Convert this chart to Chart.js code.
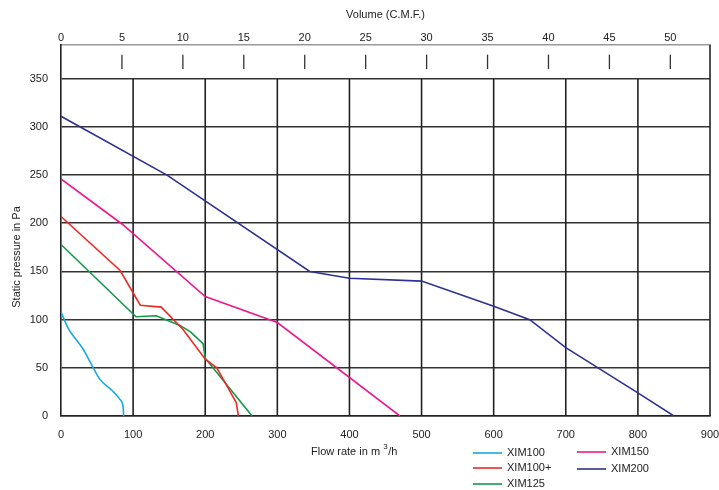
<!DOCTYPE html>
<html lang="en">
<head>
  <meta charset="UTF-8" />
  <title>Static pressure vs flow rate</title>
  <script src="https://cdn.jsdelivr.net/npm/chart.js"></script>
  <style>
    html, body { margin: 0; padding: 0; background: #fff; }
    #chart { display: block; }
  </style>
</head>
<body>
  <canvas id="chart" width="719" height="490"></canvas>

  <script>
    // Data: flow rate in m3/h, static pressure in Pa
    const seriesNames = ["XIM100", "XIM100+", "XIM125", "XIM150", "XIM200"];
    const seriesColors = ["#18a8e6", "#ee2a24", "#13984a", "#ec1a8c", "#2d3191"];

    const xim100Flow = [0, 10, 31, 44, 54, 70, 82, 86, 87];
    const xim100Pressure = [108, 91, 69, 51, 38, 27, 17, 10, 0];

    const xim100pFlow = [0, 82, 110, 139, 169, 200, 216, 243, 246];
    const xim100pPressure = [207, 151, 115, 113, 90, 59, 50, 14, 0];

    const xim125Flow = [0, 104, 132, 165, 180, 197, 200, 265];
    const xim125Pressure = [178, 103, 104, 94, 87, 75, 60, 0];

    const xim150Flow = [0, 85, 200, 300, 470];
    const xim150Pressure = [246, 199, 124, 97, 0];

    const xim200Flow = [0, 147, 345, 400, 500, 600, 650, 700, 800, 850];
    const xim200Pressure = [311, 250, 150, 143, 140, 114, 100, 71, 24, 0];

    const flowTicks = [0, 100, 200, 300, 400, 500, 600, 700, 800, 900];
    const volumeTicks = [0, 5, 10, 15, 20, 25, 30, 35, 40, 45, 50];
    const pressureTicks = [0, 50, 100, 150, 200, 250, 300, 350];
    const m3PerVolumeUnit = 16.9; // top scale as printed on the chart

    const flows = [xim100Flow, xim100pFlow, xim125Flow, xim150Flow, xim200Flow];
    const pressures = [xim100Pressure, xim100pPressure, xim125Pressure, xim150Pressure, xim200Pressure];

    const font = "'Liberation Sans', Arial, sans-serif";
    Chart.defaults.font.family = font;
    Chart.defaults.font.size = 11;
    Chart.defaults.color = "#222";

    const datasets = seriesNames.map((name, i) => ({
      label: name,
      data: flows[i].map((x, k) => ({ x: x, y: pressures[i][k] })),
      borderColor: seriesColors[i],
      backgroundColor: seriesColors[i],
      borderWidth: 1.6,
      pointRadius: 0,
      fill: false,
      tension: i === 0 ? 0.4 : 0,
      cubicInterpolationMode: i === 0 ? "monotone" : "default"
    }));

    // grid, top tick marks, titles and the two-column legend
    const decor = {
      id: "decor",
      beforeDatasetsDraw(chart) {
        const ctx = chart.ctx;
        const x = chart.scales.x, y = chart.scales.y, x2 = chart.scales.x2;
        const top350 = y.getPixelForValue(350);
        const bottom = y.getPixelForValue(0);
        ctx.save();
        ctx.strokeStyle = "#222";
        ctx.lineWidth = 1.6;
        flowTicks.forEach(v => {
          if (v === 0) return;
          const px = x.getPixelForValue(v);
          ctx.beginPath();
          ctx.moveTo(px, v === 900 ? chart.chartArea.top : top350);
          ctx.lineTo(px, bottom);
          ctx.stroke();
        });
        ctx.lineWidth = 1.3;
        ctx.strokeStyle = "#333";
        volumeTicks.forEach(v => {
          if (v === 0) return;
          const px = x2.getPixelForValue(v);
          ctx.beginPath();
          ctx.moveTo(px, y.getPixelForValue(375));
          ctx.lineTo(px, y.getPixelForValue(360));
          ctx.stroke();
        });
        ctx.restore();
      },
      afterDraw(chart) {
        const ctx = chart.ctx;
        const area = chart.chartArea;
        ctx.save();
        ctx.fillStyle = "#222";
        ctx.font = "11px " + font;
        ctx.textBaseline = "middle";

        ctx.textAlign = "center";
        ctx.fillText("Volume (C.M.F.)", (area.left + area.right) / 2, 15);

        ctx.textAlign = "left";
        ctx.fillText("Flow rate in m", 311, 452);
        const w = ctx.measureText("Flow rate in m ").width;
        ctx.font = "8px " + font;
        ctx.fillText("3", 311 + w, 447);
        ctx.font = "11px " + font;
        ctx.fillText("/h", 311 + w + 5, 452);

        ctx.translate(17, 257);
        ctx.rotate(-Math.PI / 2);
        ctx.textAlign = "center";
        ctx.fillText("Static pressure in Pa", 0, 0);
        ctx.setTransform(1, 0, 0, 1, 0, 0);

        const slots = [[473, 453], [473, 468], [473, 484], [577, 452], [577, 469]];
        ctx.textAlign = "left";
        ctx.lineWidth = 1.6;
        chart.data.datasets.forEach((ds, i) => {
          const [lx, ly] = slots[i];
          ctx.strokeStyle = ds.borderColor;
          ctx.beginPath();
          ctx.moveTo(lx, ly);
          ctx.lineTo(lx + 29, ly);
          ctx.stroke();
          ctx.fillText(ds.label, lx + 34, ly);
        });
        ctx.restore();
      }
    };

    new Chart(document.getElementById("chart").getContext("2d"), {
      type: "line",
      data: { datasets: datasets },
      options: {
        responsive: false,
        animation: false,
        devicePixelRatio: 1,
        layout: { padding: { right: 9 } },
        plugins: { legend: { display: false }, tooltip: { enabled: false } },
        scales: {
          x: {
            type: "linear",
            min: 0,
            max: 900,
            ticks: { stepSize: 100, padding: 4, color: "#222" },
            grid: { display: false },
            border: { color: "#222", width: 1.6 },
            afterFit: s => { s.height = 74; s.paddingRight = 0; s.paddingLeft = 0; }
          },
          x2: {
            type: "linear",
            position: "top",
            min: 0,
            max: 900 / m3PerVolumeUnit,
            ticks: { stepSize: 5, includeBounds: false, padding: 0, color: "#222" },
            grid: { display: false, drawTicks: false },
            border: { color: "#999", width: 1.5 },
            afterFit: s => { s.height = 45; s.paddingRight = 0; s.paddingLeft = 0; }
          },
          y: {
            min: 0,
            max: 385,
            ticks: { stepSize: 50, includeBounds: false, padding: 13, color: "#222" },
            grid: { color: "#333", lineWidth: 1.6, drawTicks: false },
            border: { color: "#222", width: 1.6 },
            afterFit: s => { s.width = 61; }
          }
        }
      },
      plugins: [decor]
    });
  </script>
</body>
</html>
